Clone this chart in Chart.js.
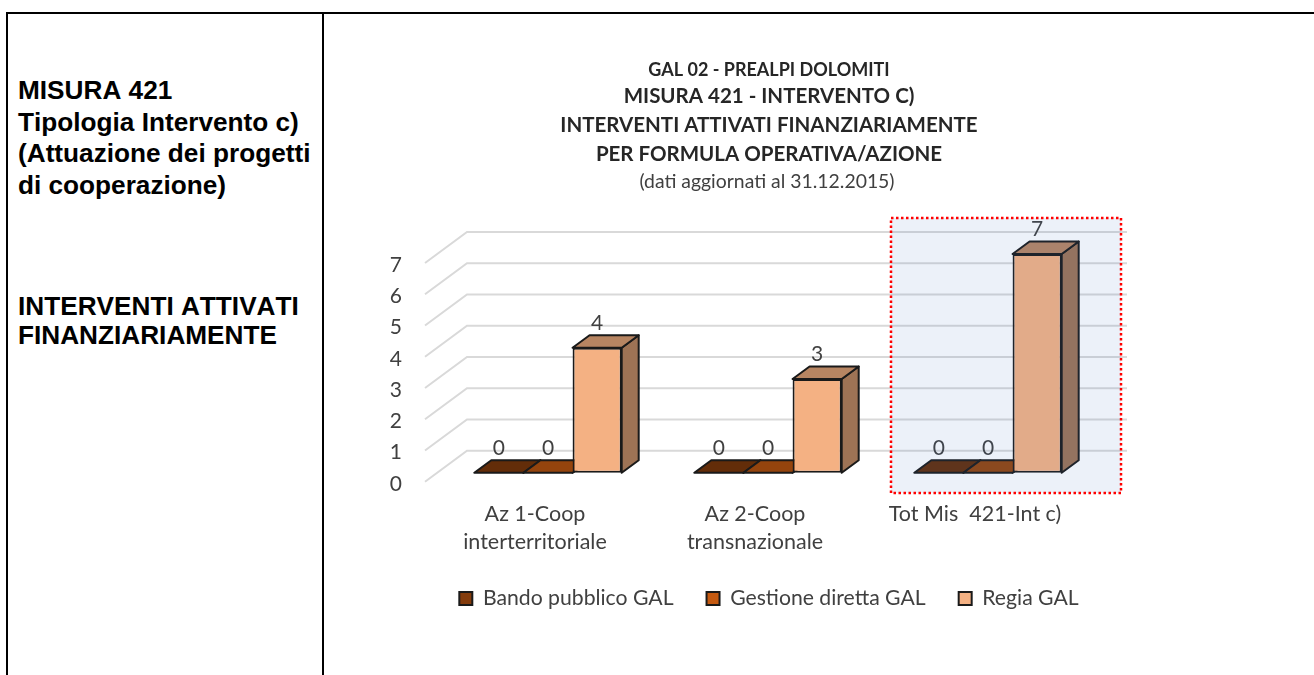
<!DOCTYPE html>
<html><head><meta charset="utf-8">
<script src="https://cdn.jsdelivr.net/npm/chart.js@4"></script>
<style>
html,body{margin:0;padding:0;background:#fff;width:1314px;height:675px;overflow:hidden}
.l{position:absolute;background:#000}
.t{position:absolute;left:18px;font:bold 26.2px/31.5px "Liberation Sans",Arial,sans-serif;font-kerning:none;color:#000;white-space:nowrap}
canvas{position:absolute;left:325px;top:15px}
</style></head><body>
<div class="l" style="left:6px;top:12px;width:1308px;height:2px"></div>
<div class="l" style="left:6px;top:12px;width:2px;height:663px"></div>
<div class="l" style="left:322px;top:12px;width:2px;height:663px"></div>
<div class="t" style="top:75px">MISURA 421<br>Tipologia Intervento c)<br>(Attuazione dei progetti<br>di cooperazione)</div>
<div class="t" style="top:292px;line-height:29px">INTERVENTI ATTIVATI<br>FINANZIARIAMENTE</div>
<canvas id="c" width="888" height="660"></canvas>
<script>
const categories = [["Az 1-Coop","interterritoriale"],["Az 2-Coop","transnazionale"],"Tot Mis  421-Int c)"];
const seriesNames = ["Bando pubblico GAL","Gestione diretta GAL","Regia GAL"];
const bandoValues = [0,0,0];
const gestioneValues = [0,0,0];
const regiaValues = [4,3,7];
const yTicks = [0,1,2,3,4,5,6,7];
const titleLine = "GAL 02 - PREALPI DOLOMITI";
const subtitleLines = ["MISURA 421 - INTERVENTO C)","INTERVENTI ATTIVATI FINANZIARIAMENTE","PER FORMULA OPERATIVA/AZIONE"];
const dateLine = "(dati aggiornati al 31.12.2015)";
const colors = ["#843C0C","#C55A11","#F4B183"];
const topColors = ["#632D09","#94440D","#B78562"];
const sideColors = ["#562707","#803B0B","#9E7355"];

const FONT = "Lato, Carlito, sans-serif";
const gridShiftY = -2;
const barShift = {x:13,y:-11}, depth = {x:17,y:-12.5}, wall = {x:42,y:-31};

const scene = {
  id:"scene",
  beforeDatasetsDraw(chart){
    const {ctx,scales:{x,y}}=chart;
    ctx.save();
    ctx.strokeStyle="#D9D9D9";ctx.lineWidth=2;
    yTicks.forEach(v=>{
      const py=y.getPixelForValue(v)+gridShiftY;
      ctx.beginPath();
      ctx.moveTo(x.left,py);
      ctx.lineTo(x.left+wall.x,py+wall.y);
      ctx.lineTo(x.right+wall.x,py+wall.y);
      ctx.stroke();
    });
    ctx.translate(barShift.x,barShift.y);
    ctx.lineWidth=2;ctx.strokeStyle="#1a1a1a";ctx.lineJoin="round";
    chart.data.datasets.forEach((d,i)=>{
      chart.getDatasetMeta(i).data.forEach(b=>{
        const l=b.x-b.width/2,r=b.x+b.width/2,t=b.y,base=b.base;
        ctx.fillStyle=sideColors[i];
        ctx.beginPath();ctx.moveTo(r,t);ctx.lineTo(r+depth.x,t+depth.y);ctx.lineTo(r+depth.x,base+depth.y);ctx.lineTo(r,base);ctx.closePath();ctx.fill();ctx.stroke();
        ctx.fillStyle=topColors[i];
        ctx.beginPath();ctx.moveTo(l,t);ctx.lineTo(l+depth.x,t+depth.y);ctx.lineTo(r+depth.x,t+depth.y);ctx.lineTo(r,t);ctx.closePath();ctx.fill();ctx.stroke();
      });
    });
    ctx.restore();
  },
  beforeDatasetDraw(chart){
    chart.ctx.save();
    chart.ctx.translate(barShift.x,barShift.y);
  },
  afterDatasetDraw(chart){chart.ctx.restore();},
  afterDatasetsDraw(chart){
    const {ctx,scales:{x}}=chart;
    ctx.save();
    ctx.font="21px "+FONT;ctx.fillStyle="#404040";ctx.textAlign="center";ctx.textBaseline="middle";
    chart.data.datasets.forEach((d,i)=>{
      chart.getDatasetMeta(i).data.forEach((b,j)=>{
        ctx.fillText(String(d.data[j]),b.x+barShift.x,b.y+barShift.y-25);
      });
    });
    ctx.font="19.4px "+FONT;
    ctx.fillText(dateLine,chart.width/2-2,167);
    const c=x.getPixelForValue(2);
    const rx=c-84,ry=203,rw=230,rh=275;
    ctx.fillStyle="rgba(68,114,196,0.1)";
    ctx.fillRect(rx,ry,rw,rh);
    ctx.strokeStyle="#FF0000";ctx.lineWidth=2.5;ctx.setLineDash([2.5,2.5]);
    ctx.strokeRect(rx,ry,rw,rh);
    ctx.restore();
  }
};

const barStyle = {borderColor:"#1a1a1a",borderWidth:2,borderSkipped:false,clip:false};
new Chart(document.getElementById("c"),{
  type:"bar",
  data:{labels:categories,datasets:[
    {label:seriesNames[0],data:bandoValues,backgroundColor:colors[0],...barStyle},
    {label:seriesNames[1],data:gestioneValues,backgroundColor:colors[1],...barStyle},
    {label:seriesNames[2],data:regiaValues,backgroundColor:colors[2],...barStyle}
  ]},
  plugins:[scene],
  options:{
    responsive:false,animation:false,
    layout:{padding:{left:0,right:0,top:0,bottom:56}},
    datasets:{bar:{barPercentage:1,categoryPercentage:0.67}},
    scales:{
      x:{grid:{display:false},border:{display:false},
        ticks:{color:"#404040",padding:8,maxRotation:0,autoSkip:false,font:{family:FONT,size:21.5,lineHeight:1.3}},
        afterFit(s){s.height=71;}},
      y:{min:0,max:7,grid:{display:false},border:{display:false},
        ticks:{stepSize:1,color:"#404040",padding:15,font:{family:FONT,size:21}},
        afterFit(s){s.width=100;}},
      y2:{position:"right",min:0,max:7,grid:{display:false},border:{display:false},
        ticks:{display:false},afterFit(s){s.width=128;}}
    },
    plugins:{
      tooltip:{enabled:false},
      title:{display:true,text:titleLine,color:"#262626",padding:{top:44,bottom:0},font:{family:FONT,size:18,weight:"bold",lineHeight:1.22}},
      subtitle:{display:true,text:subtitleLines,color:"#262626",padding:{top:1,bottom:96},font:{family:FONT,size:20.5,weight:"bold",lineHeight:1.415}},
      legend:{position:"bottom",labels:{color:"#404040",boxWidth:13,boxHeight:13,padding:33,font:{family:FONT,size:21.2}}}
    }
  }
});
</script>
</body></html>
